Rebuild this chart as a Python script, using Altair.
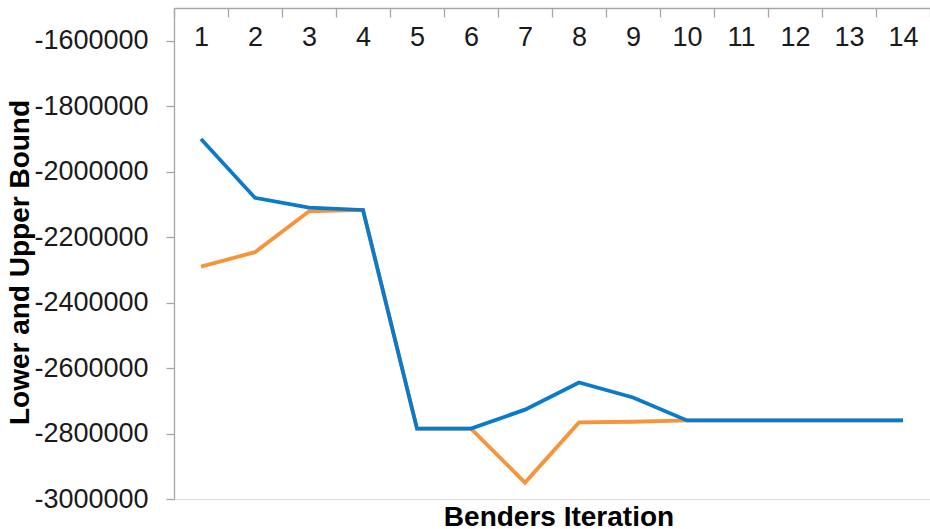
import altair as alt
import pandas as pd

iterations = list(range(1, 15))
upper_bound = [-1900000, -2080000, -2110000, -2117000, -2785000, -2785000, -2727000,
               -2644000, -2690000, -2760000, -2760000, -2760000, -2760000, -2760000]
lower_bound = [-2290000, -2246000, -2121000, -2117000, -2785000, -2785000, -2950000,
               -2766000, -2764000, -2760000, -2760000, -2760000, -2760000, -2760000]
y_ticks = [-3000000, -2800000, -2600000, -2400000, -2200000, -2000000, -1800000, -1600000]

df = pd.DataFrame({
    "Iteration": iterations * 2,
    "Bound": upper_bound + lower_bound,
    "Series": ["Upper"] * 14 + ["Lower"] * 14,
})

W, H = 756, 491
FONT = "Liberation Sans"

x_enc = alt.X(
    "Iteration:O",
    sort=iterations,
    bandPosition=0.5,
    scale=alt.Scale(type="band", paddingInner=0, paddingOuter=0),
    axis=alt.Axis(
        orient="bottom", offset=-H, title=None, tickBand="extent",
        tickSize=9, labelPadding=7, labelAngle=0, labelFontSize=27,
        labelFont=FONT, labelColor="#1a1a1a", domainColor="#a6a6a6",
        tickColor="#a6a6a6", domainWidth=1.3, tickWidth=1.3, grid=False,
    ),
)
y_enc = alt.Y(
    "Bound:Q",
    scale=alt.Scale(domain=[-3000000, -1500000], nice=False, zero=False),
    axis=alt.Axis(
        values=y_ticks, labelExpr="'' + datum.value", title="Lower and Upper Bound",
        titleFontSize=28, titleFont=FONT, titleFontWeight="bold", titleColor="#000000",
        titleX=-140, titleY=254, titleAngle=-90, titleBaseline="bottom",
        labelFontSize=27, labelFont=FONT, labelColor="#1a1a1a",
        tickSize=8, labelPadding=18, domainColor="#a6a6a6", tickColor="#a6a6a6",
        domainWidth=1.3, tickWidth=1.3, grid=False,
    ),
)

base = alt.Chart(df)
lower = base.transform_filter(alt.datum.Series == "Lower").mark_line(
    color="#F7943A", strokeWidth=3.8
).encode(x=x_enc, y=y_enc)
upper = base.transform_filter(alt.datum.Series == "Upper").mark_line(
    color="#0A7BCB", strokeWidth=3.8
).encode(x=x_enc, y=y_enc)

chart = alt.layer(lower, upper).properties(
    width=W, height=H,
    title=alt.TitleParams(
        "Benders Iteration", orient="bottom", fontSize=28, font=FONT,
        fontWeight="bold", color="#000000", offset=-8, dx=7,
    ),
    autosize=alt.AutoSizeParams(type="none"),
    padding={"left": 174, "top": 8, "right": 0, "bottom": 30},
).configure_view(stroke=None).configure(background="white")

chart.save("out.html", embed_options={"renderer": "svg", "actions": False})
